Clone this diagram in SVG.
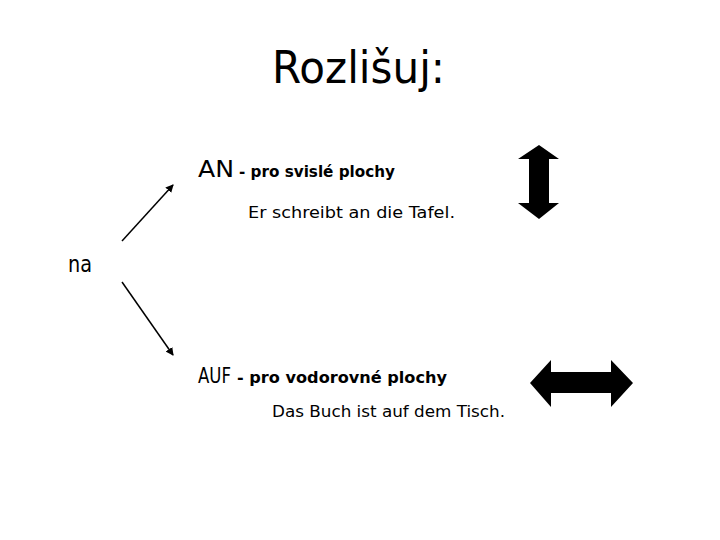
<svg xmlns="http://www.w3.org/2000/svg" width="720" height="540" viewBox="0 0 720 540">
<style>
text{font-family:"DejaVu Sans","Liberation Sans",sans-serif;fill:#000}
.big{font-size:23px}
.b{font-size:15px;font-weight:bold}
.s{font-size:16px}
.ln{stroke:#000;stroke-width:1.5;fill:none}
</style>
<defs>
<marker id="ah" markerWidth="8" markerHeight="8" refX="7" refY="4" orient="auto" markerUnits="userSpaceOnUse">
<path d="M0,0 L8,4 L0,8 z" fill="#000"/>
</marker>
</defs>
<rect width="720" height="540" fill="#fff"/>
<g id="title"><text x="272" y="83" font-size="44" textLength="173" lengthAdjust="spacingAndGlyphs">Rozlišuj:</text></g>
<g id="na"><text x="68" y="272" class="big" textLength="24" lengthAdjust="spacingAndGlyphs">na</text></g>
<g id="an">
<text x="198" y="177" class="big" textLength="36" lengthAdjust="spacingAndGlyphs">AN</text>
<text x="239" y="177" class="b" textLength="156" lengthAdjust="spacingAndGlyphs">- pro svislé plochy</text>
<text x="248" y="218" class="s" textLength="207" lengthAdjust="spacingAndGlyphs">Er schreibt an die Tafel.</text>
</g>
<g id="auf">
<text x="198" y="383" font-size="21" textLength="33" lengthAdjust="spacingAndGlyphs">AUF</text>
<text x="237" y="383" class="b" textLength="210" lengthAdjust="spacingAndGlyphs">- pro vodorovné plochy</text>
<text x="272" y="417" class="s" textLength="233" lengthAdjust="spacingAndGlyphs">Das Buch ist auf dem Tisch.</text>
</g>
<g id="connectors">
<line class="ln" x1="122" y1="241" x2="173" y2="185" marker-end="url(#ah)"/>
<line class="ln" x1="122" y1="282" x2="173" y2="355" marker-end="url(#ah)"/>
</g>
<g id="vertical-arrow"><polygon points="539,145 559,159 549,159 549,203 559,203 539,219 518,203 529,203 529,159 518,159" fill="#000"/></g>
<g id="horizontal-arrow"><polygon points="530,383 551,360 551,372 611,372 611,360 633,383 611,407 611,393 551,393 551,407" fill="#000"/></g>
</svg>
